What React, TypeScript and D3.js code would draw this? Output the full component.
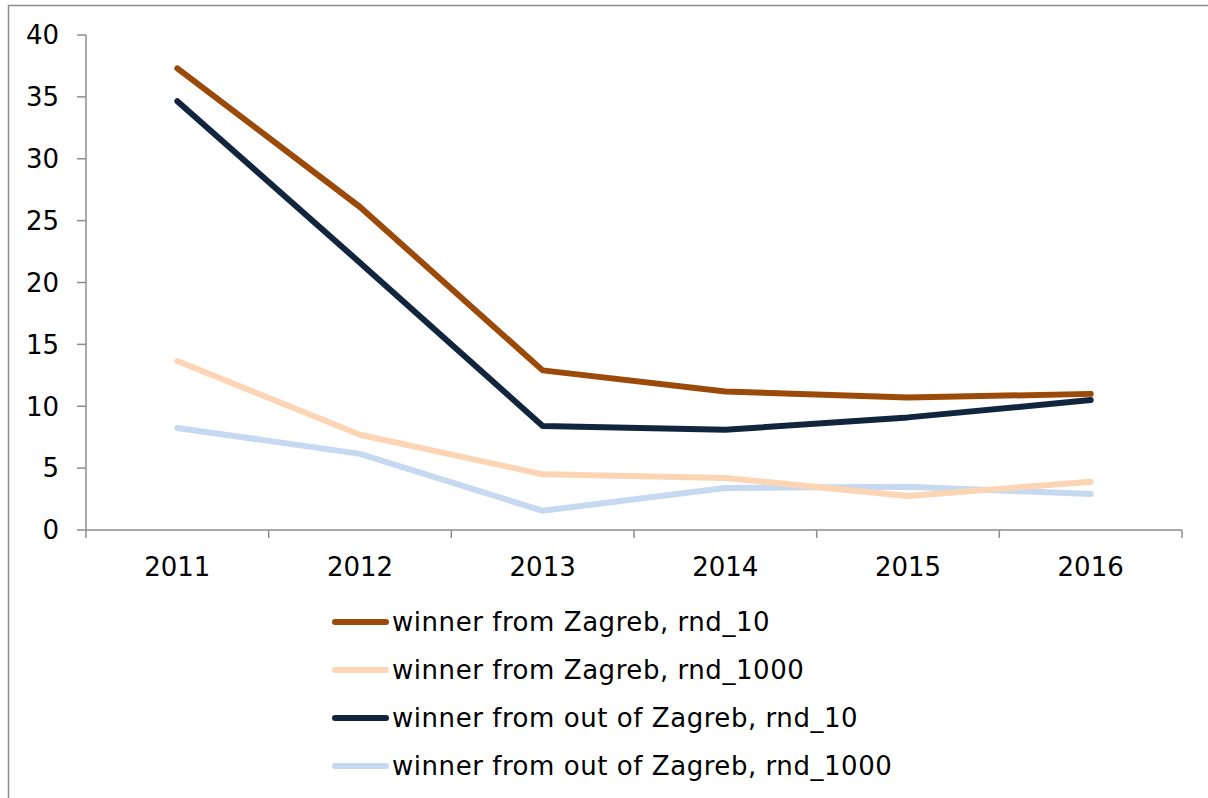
import React from "react";
import * as d3 from "d3";

const years = ["2011", "2012", "2013", "2014", "2015", "2016"];
const zagreb10 = [37.3, 26.1, 12.9, 11.2, 10.7, 11.0];
const zagreb1000 = [13.65, 7.7, 4.5, 4.2, 2.75, 3.9];
const outZagreb10 = [34.65, 21.6, 8.4, 8.1, 9.1, 10.5];
const outZagreb1000 = [8.25, 6.15, 1.55, 3.4, 3.5, 2.9];
const yTicks = [0, 5, 10, 15, 20, 25, 30, 35, 40];

const seriesNames = [
  "winner from Zagreb, rnd_10",
  "winner from Zagreb, rnd_1000",
  "winner from out of Zagreb, rnd_10",
  "winner from out of Zagreb, rnd_1000",
];
const seriesValues = [zagreb10, zagreb1000, outZagreb10, outZagreb1000];
const seriesColors = ["#9C4A0A", "#FCD5B5", "#12253F", "#C6D9F0"];
// drawing order: light ones first so dark lines sit on top
const drawOrder = [3, 1, 2, 0];

export default function App() {
  const W = 1208;
  const H = 798;
  const left = 86;
  const right = 1182;
  const top = 35;
  const bottom = 530;

  const x = d3.scaleBand<string>().domain(years).range([left, right]).padding(0);
  const y = d3.scaleLinear().domain([0, 40]).range([bottom, top]);
  const line = d3
    .line<number>()
    .x((_, i) => (x(years[i]) as number) + x.bandwidth() / 2)
    .y((d) => y(d));

  const font = "'DejaVu Sans', Verdana, sans-serif";
  const boundaries = years.map((yr) => x(yr) as number).concat([right]);

  return (
    <svg
      width={W}
      height={H}
      style={{ position: "absolute", left: 0, top: 0, background: "#fff" }}
      fontFamily={font}
    >
      <rect x={8.5} y={5.5} width={W + 10} height={H + 10} fill="#fff" stroke="#8c8c8c" strokeWidth={1.5} />
      {/* y axis */}
      <line x1={left} x2={left} y1={top} y2={bottom} stroke="#8c8c8c" strokeWidth={1.5} />
      {yTicks.map((t) => (
        <g key={t}>
          <line x1={left - 9} x2={left} y1={y(t)} y2={y(t)} stroke="#8c8c8c" strokeWidth={1.5} />
          <text x={59} y={y(t)} dy="0.36em" textAnchor="end" fontSize={26} fill="#000">
            {t}
          </text>
        </g>
      ))}
      {/* x axis */}
      <line x1={left} x2={right} y1={bottom} y2={bottom} stroke="#8c8c8c" strokeWidth={1.5} />
      {boundaries.map((bx, i) => (
        <line key={i} x1={bx} x2={bx} y1={bottom} y2={bottom + 8} stroke="#8c8c8c" strokeWidth={1.5} />
      ))}
      {years.map((yr) => (
        <text
          key={yr}
          x={(x(yr) as number) + x.bandwidth() / 2}
          y={576}
          textAnchor="middle"
          fontSize={26}
          fill="#000"
        >
          {yr}
        </text>
      ))}
      {/* lines */}
      {drawOrder.map((si) => (
        <path
          key={si}
          d={line(seriesValues[si]) as string}
          fill="none"
          stroke={seriesColors[si]}
          strokeWidth={6}
          strokeLinecap="round"
          strokeLinejoin="round"
        />
      ))}
      {/* legend */}
      {seriesNames.map((name, i) => {
        const ly = 622 + i * 48;
        return (
          <g key={name}>
            <line x1={335} x2={386} y1={ly} y2={ly} stroke={seriesColors[i]} strokeWidth={6} strokeLinecap="round" />
            <text x={392} y={ly} dy="0.36em" fontSize={26} letterSpacing={0.55} fill="#000">
              {name}
            </text>
          </g>
        );
      })}
    </svg>
  );
}
